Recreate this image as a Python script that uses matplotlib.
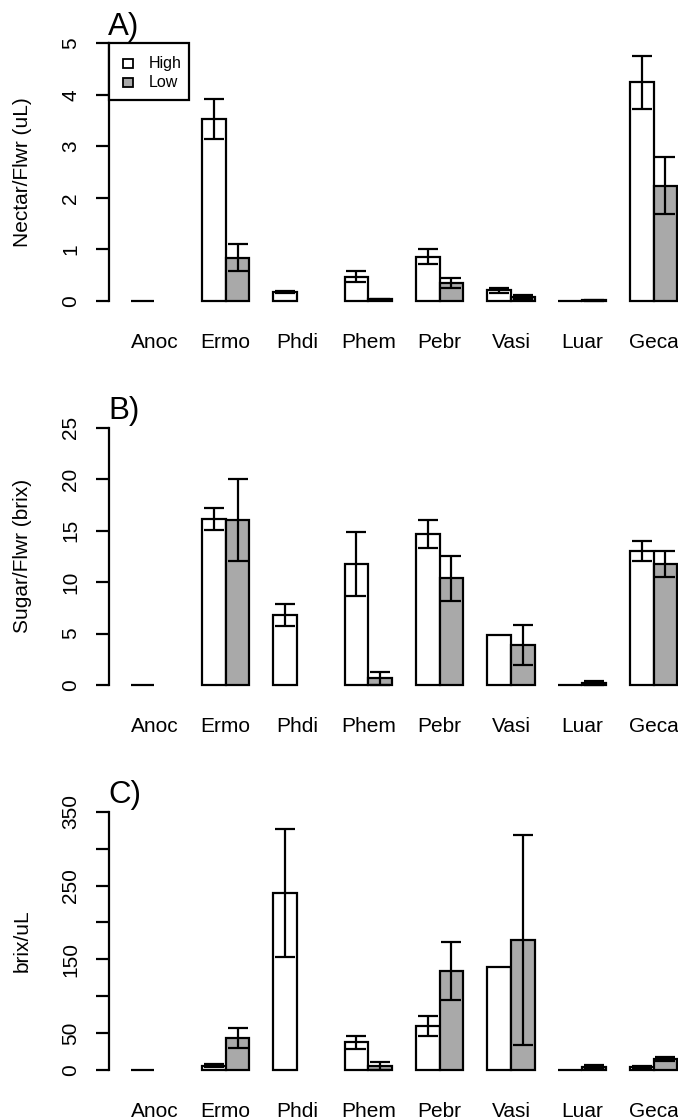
import numpy as np
import matplotlib
matplotlib.use("Agg")
import matplotlib.pyplot as plt
from matplotlib.transforms import blended_transform_factory
from matplotlib.patches import Rectangle

nan = np.nan
categories = ['Anoc', 'Ermo', 'Phdi', 'Phem', 'Pebr', 'Vasi', 'Luar', 'Geca']

nectar_high = [0, 3.53, 0.17, 0.47, 0.86, 0.21, 0, 4.24]
nectar_high_se = [nan, 0.385, 0.02, 0.11, 0.145, 0.05, nan, 0.51]
nectar_low = [nan, 0.84, nan, 0.03, 0.35, 0.08, 0.01, 2.24]
nectar_low_se = [nan, 0.265, nan, 0.01, 0.095, 0.033, 0.005, 0.55]

sugar_high = [0, 16.13, 6.8, 11.76, 14.7, 4.86, 0, 13.05]
sugar_high_se = [nan, 1.03, 1.05, 3.08, 1.35, nan, nan, 0.97]
sugar_low = [nan, 16.06, nan, 0.65, 10.36, 3.89, 0.16, 11.76]
sugar_low_se = [nan, 4.0, nan, 0.64, 2.2, 1.97, 0.2, 1.25]

ratio_high = [0, 6, 239.8, 37.5, 60.1, 139.1, 0, 4]
ratio_high_se = [nan, 2, 86.7, 8.8, 13.5, nan, nan, 1]
ratio_low = [nan, 42.9, nan, 5.9, 134.1, 175.7, 4.5, 14.5]
ratio_low_se = [nan, 13.7, nan, 5.4, 39.5, 142.3, 2.5, 3]

legend_labels = ['High', 'Low']
panel_labels = ['A)', 'B)', 'C)']
y_labels = ['Nectar/Flwr (uL)', 'Sugar/Flwr (brix)', 'brix/uL']
y_ticks = [[0, 1, 2, 3, 4, 5],
           [0, 5, 10, 15, 20, 25],
           [0, 50, 100, 150, 200, 250, 300, 350]]
y_ticklabels = [['0', '1', '2', '3', '4', '5'],
                ['0', '5', '10', '15', '20', '25'],
                ['0', '50', '', '150', '', '250', '', '350']]

W, H, DPI = 678, 1120, 100
plt.rcParams['font.family'] = ['Liberation Sans', 'DejaVu Sans']
fig = plt.figure(figsize=(W / DPI, H / DPI), dpi=DPI)
fig.patch.set_facecolor('white')

LW = 1.6
GRAY = '#a9a9a9'
# pixel layout (top, bottom) of each plot region
regions = [(33.0, 311.3), (417.4, 695.3), (801.4, 1080.3)]
x_left_px, x_right_px = 108.7, 699.2

def fx(px):
    return px / W

def fy(py):
    return 1 - py / H

panels = [
    (nectar_high, nectar_high_se, nectar_low, nectar_low_se),
    (sugar_high, sugar_high_se, sugar_low, sugar_low_se),
    (ratio_high, ratio_high_se, ratio_low, ratio_low_se),
]

for p, (hi, hise, lo, lose) in enumerate(panels):
    top, bot = regions[p]
    ax = fig.add_axes([fx(x_left_px), fy(bot), (x_right_px - x_left_px) / W, (bot - top) / H])
    ymax = y_ticks[p][-1]
    ax.set_xlim(0.08, 24.92)
    ax.set_ylim(-0.04 * ymax, 1.04 * ymax)
    ax.patch.set_visible(False)
    n = len(categories)
    xh = np.array([1.5 + 3 * i for i in range(n)])
    xl = xh + 1
    hi = np.array(hi, float); lo = np.array(lo, float)
    hise = np.array(hise, float); lose = np.array(lose, float)
    mh = ~np.isnan(hi)
    ml = ~np.isnan(lo)
    ax.bar(xh[mh], hi[mh], width=1, color='white', edgecolor='black', linewidth=LW, zorder=2)
    ax.bar(xl[ml], lo[ml], width=1, color=GRAY, edgecolor='black', linewidth=LW, zorder=2)
    eh = ~np.isnan(hise)
    el = ~np.isnan(lose)
    ax.errorbar(xh[eh], hi[eh], yerr=hise[eh], fmt='none', ecolor='black',
                elinewidth=LW, capsize=7.2, capthick=LW, zorder=3)
    ax.errorbar(xl[el], lo[el], yerr=lose[el], fmt='none', ecolor='black',
                elinewidth=LW, capsize=7.2, capthick=LW, zorder=3)

    for s in ['top', 'right', 'bottom']:
        ax.spines[s].set_visible(False)
    ax.spines['left'].set_bounds(0, ymax)
    ax.spines['left'].set_linewidth(LW)
    ax.set_xticks([])
    ax.set_yticks(y_ticks[p])
    ax.set_yticklabels(y_ticklabels[p], rotation=90, va='center', fontsize=15)
    ax.tick_params(axis='y', direction='out', length=9.5, width=LW, pad=11)

    # category labels
    tr = blended_transform_factory(ax.transData, fig.transFigure)
    base_px = bot - 10.3 + 47.3
    for i, c in enumerate(categories):
        ax.text(xh[i] + 0.5, fy(base_px), c, transform=tr, ha='center', va='baseline',
                fontsize=15, clip_on=False)

    # y label
    fig.text(fx(22.5), fy((top + bot) / 2), y_labels[p], rotation=90,
             ha='center', va='center', fontsize=15)
    # panel label
    fig.text(fx(108.0), fy(top + 1.5), panel_labels[p], ha='left', va='baseline', fontsize=22.5)

# legend (panel A), drawn by hand to match R's legend box
lx0, ly0, lx1, ly1 = 109.3, 43.3, 189.3, 100.0
fig.patches.append(Rectangle((fx(lx0), fy(ly1)), (lx1 - lx0) / W, (ly1 - ly0) / H,
                             transform=fig.transFigure, facecolor='white', edgecolor='black',
                             linewidth=LW, zorder=5))
for j, (lab, col, cy) in enumerate(zip(legend_labels, ['white', GRAY], [63.5, 82.8])):
    fig.patches.append(Rectangle((fx(123.3), fy(cy + 4.5)), 10 / W, 9 / H,
                                 transform=fig.transFigure, facecolor=col, edgecolor='black',
                                 linewidth=1.3, zorder=6))
    fig.text(fx(148.5), fy(cy), lab, ha='left', va='center', fontsize=11.5, zorder=7)

fig.savefig('out.png', dpi=DPI)
